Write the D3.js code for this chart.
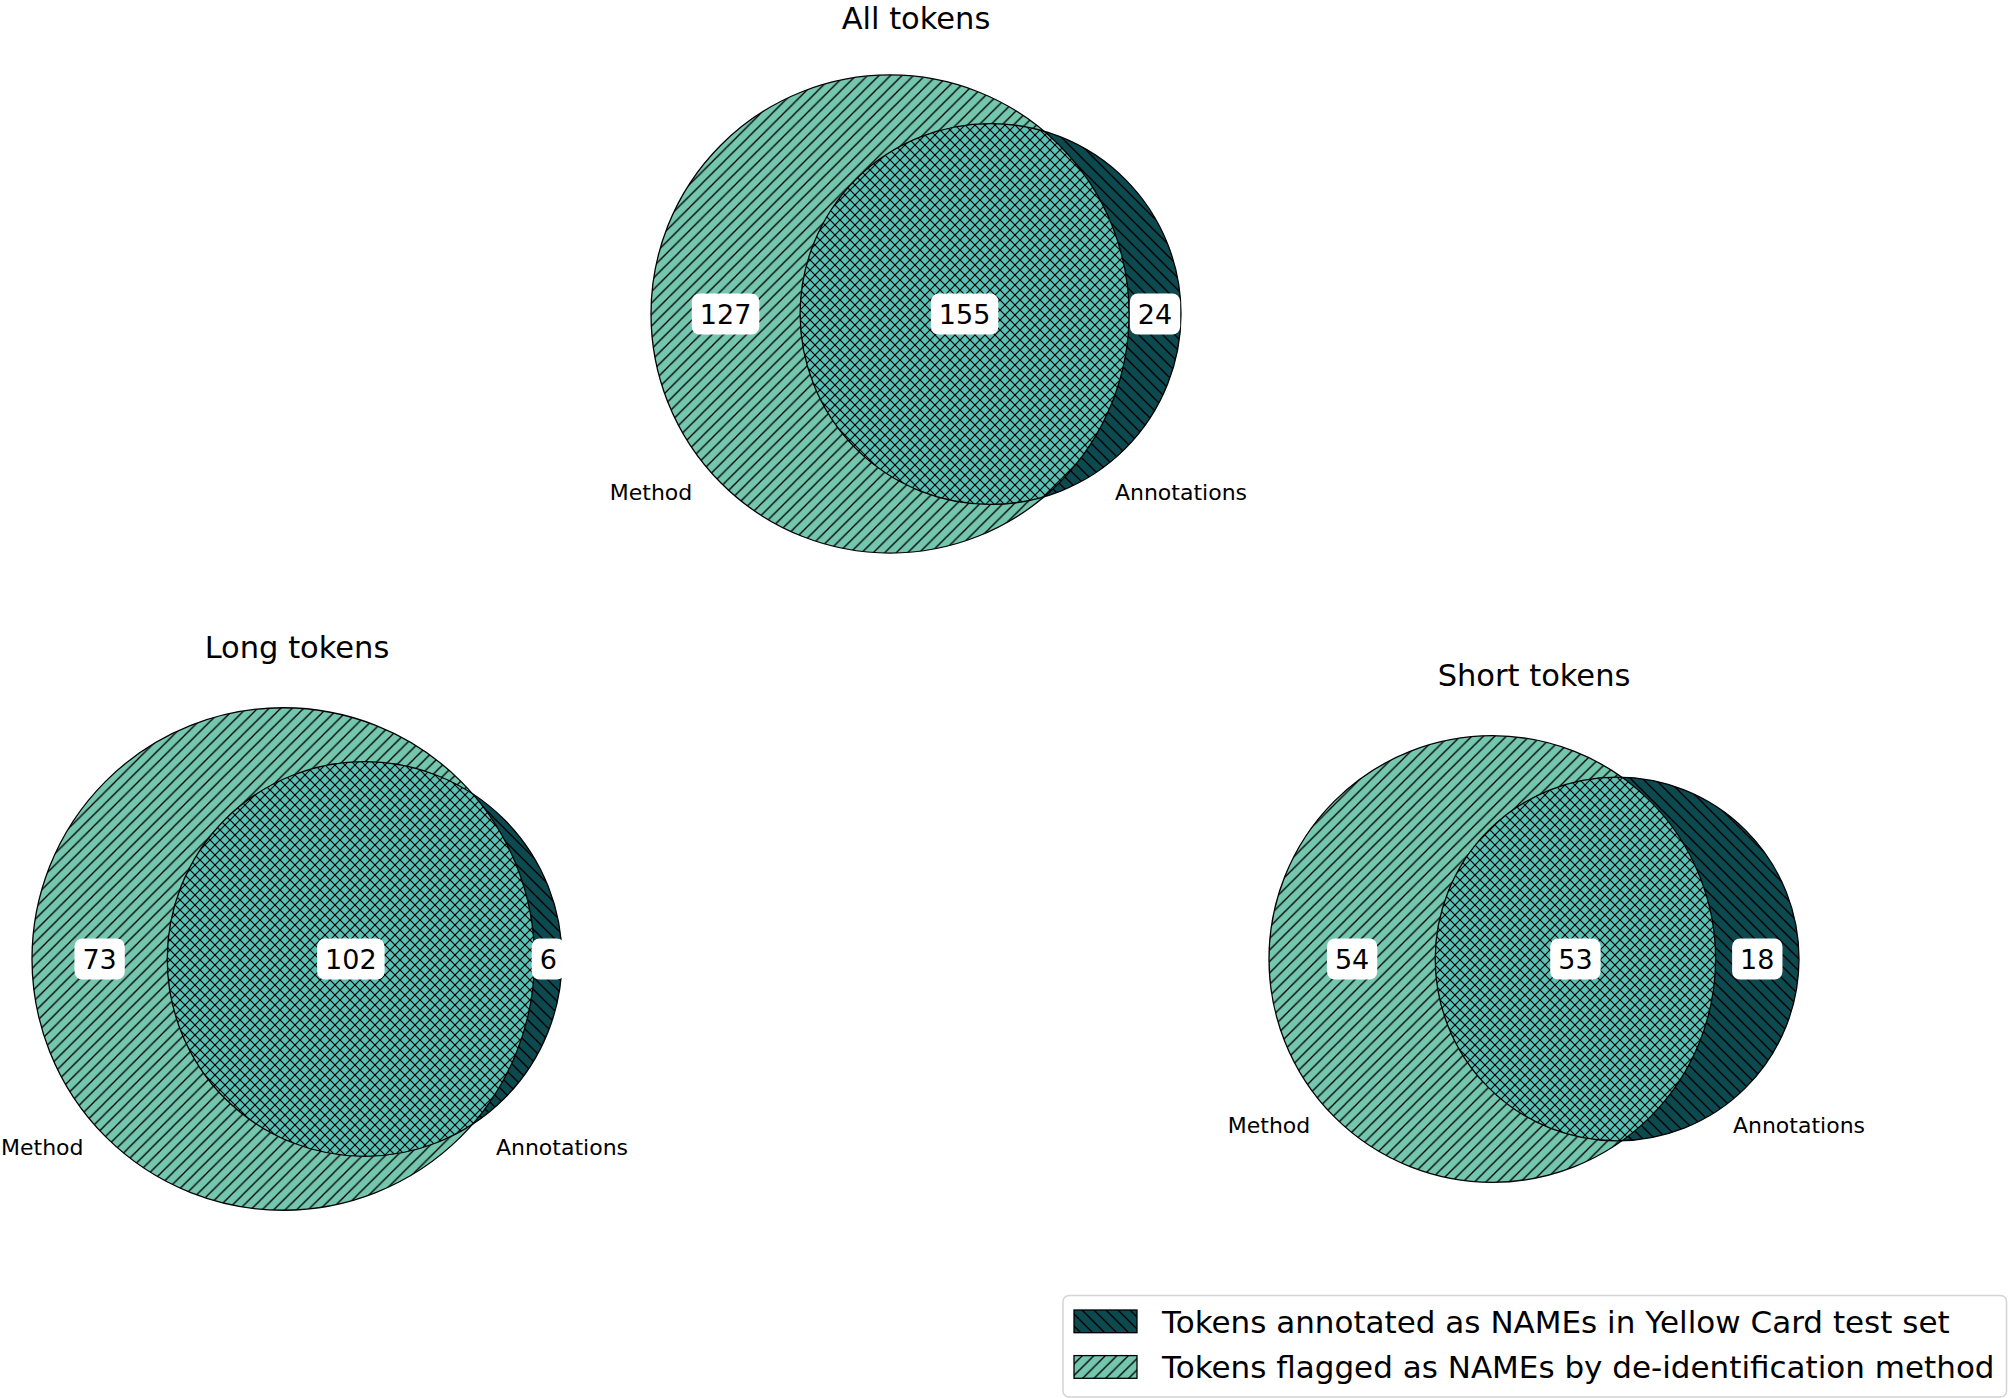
<!DOCTYPE html>
<html>
<head>
<meta charset="utf-8">
<script src="https://cdn.jsdelivr.net/npm/d3@7/dist/d3.min.js"></script>
<style>
  html, body { margin: 0; padding: 0; background: #ffffff; }
  svg { display: block; font-family: "DejaVu Sans", sans-serif; }
</style>
</head>
<body>
<svg id="chart" width="2008" height="1398"></svg>
<script>
// ---------------- data ----------------
const panelTitles = ["All tokens", "Long tokens", "Short tokens"];
const methodOnly  = [127, 73, 54];   // flagged by method, not annotated
const bothSets    = [155, 102, 53];  // flagged and annotated
const annotOnly   = [24, 6, 18];     // annotated, not flagged
const setLabels   = ["Method", "Annotations"];
const legendLabels = [
  "Tokens annotated as NAMEs in Yellow Card test set",
  "Tokens flagged as NAMEs by de-identification method"
];

// ---------------- style / layout ----------------
const colMethod = "#74c7ae";
const colAnnot  = "#0c4a50";
const colBoth   = "#5ac3b7";
const panelCenters = [{x: 916, y: 314}, {x: 297, y: 959}, {x: 1534, y: 959}];
const panelWidth = 530;

const svg = d3.select("#chart");
const defs = svg.append("defs");

function hatch(id, bg, s, dirs, lw) {
  const p = defs.append("pattern").attr("id", id)
    .attr("patternUnits", "userSpaceOnUse").attr("width", s).attr("height", s);
  p.append("rect").attr("width", s).attr("height", s).attr("fill", bg);
  const g = p.append("g").attr("stroke", "#000").attr("stroke-width", lw).attr("stroke-linecap", "square");
  if (dirs.includes("/")) {
    g.append("line").attr("x1", 0).attr("y1", s).attr("x2", s).attr("y2", 0);
    g.append("line").attr("x1", -1).attr("y1", 1).attr("x2", 1).attr("y2", -1);
    g.append("line").attr("x1", s - 1).attr("y1", s + 1).attr("x2", s + 1).attr("y2", s - 1);
  }
  if (dirs.includes("\\")) {
    g.append("line").attr("x1", 0).attr("y1", 0).attr("x2", s).attr("y2", s);
    g.append("line").attr("x1", -1).attr("y1", s - 1).attr("x2", 1).attr("y2", s + 1);
    g.append("line").attr("x1", s - 1).attr("y1", -1).attr("x2", s + 1).attr("y2", 1);
  }
}
hatch("hMethod", colMethod, 11.5, "/", 1.3);
hatch("hAnnot", colAnnot, 12, "\\", 1.3);
hatch("hBoth", colBoth, 10, "/\\", 1.2);

function lensArea(d, r1, r2) {
  if (d >= r1 + r2) return 0;
  if (d <= Math.abs(r1 - r2)) return Math.PI * Math.min(r1, r2) ** 2;
  const a = r1 * r1 * Math.acos((d * d + r1 * r1 - r2 * r2) / (2 * d * r1));
  const b = r2 * r2 * Math.acos((d * d + r2 * r2 - r1 * r1) / (2 * d * r2));
  const c = 0.5 * Math.sqrt((-d + r1 + r2) * (d + r1 - r2) * (d - r1 + r2) * (d + r1 + r2));
  return a + b - c;
}
function solveDistance(r1, r2, ov) {
  let lo = Math.abs(r1 - r2), hi = r1 + r2;
  for (let i = 0; i < 80; i++) {
    const mid = (lo + hi) / 2;
    if (lensArea(mid, r1, r2) > ov) lo = mid; else hi = mid;
  }
  return (lo + hi) / 2;
}

const numFont = 27, titleFont = 30.5, setFont = 22, legendFont = 31;

panelTitles.forEach((title, i) => {
  const total = methodOnly[i] + bothSets[i] + annotOnly[i];
  const rScale = d3.scaleSqrt().domain([0, total]).range([0, Math.sqrt(1 / Math.PI)]);
  const rA = rScale(methodOnly[i] + bothSets[i]);
  const rB = rScale(annotOnly[i] + bothSets[i]);
  const d = solveDistance(rA, rB, bothSets[i] / total);
  const left = -rA, right = Math.max(rA, d + rB);
  const pc = panelCenters[i];
  const x = d3.scaleLinear().domain([left, right]).range([pc.x - panelWidth / 2, pc.x + panelWidth / 2]);
  const k = x(1) - x(0);
  const cy = pc.y;
  const cxA = x(0), cxB = x(d);
  const RA = rA * k, RB = rB * k;
  const g = svg.append("g");

  const clipId = "clipA" + i;
  defs.append("clipPath").attr("id", clipId)
    .append("circle").attr("cx", cxA).attr("cy", cy).attr("r", RA);

  g.append("circle").attr("cx", cxA).attr("cy", cy).attr("r", RA).attr("fill", "url(#hMethod)");
  g.append("circle").attr("cx", cxB).attr("cy", cy).attr("r", RB).attr("fill", "url(#hAnnot)");
  g.append("circle").attr("cx", cxB).attr("cy", cy).attr("r", RB).attr("fill", "url(#hBoth)")
    .attr("clip-path", `url(#${clipId})`);
  [[cxA, RA], [cxB, RB]].forEach(([cx, r]) => {
    g.append("circle").attr("cx", cx).attr("cy", cy).attr("r", r)
      .attr("fill", "none").attr("stroke", "#000").attr("stroke-width", 1.3);
  });

  // subset labels
  const regions = [
    {v: methodOnly[i], px: ((cxA - RA) + (cxB - RB)) / 2},
    {v: bothSets[i],   px: ((cxB - RB) + (cxA + RA)) / 2},
    {v: annotOnly[i],  px: ((cxA + RA) + (cxB + RB)) / 2}
  ];
  regions.forEach(rg => {
    const txt = String(rg.v);
    const tw = txt.length * 0.636 * numFont;
    const bw = tw + 16, bh = 41;
    g.append("rect").attr("x", rg.px - bw / 2).attr("y", cy - bh / 2)
      .attr("width", bw).attr("height", bh).attr("rx", 8).attr("ry", 8)
      .attr("fill", "#fff");
    g.append("text").attr("x", rg.px).attr("y", cy + 0.729 * numFont / 2)
      .attr("text-anchor", "middle").attr("font-size", numFont).attr("fill", "#000").text(txt);
  });

  // set labels (kept inside the figure, as the tight-cropped reference shows)
  const rmax = Math.max(RA, RB);
  const mWidth = 3.751 * setFont;
  g.append("text").attr("x", Math.max(cxA - RA, mWidth / 2 + 1)).attr("y", cy + 0.78 * rmax)
    .attr("text-anchor", "middle").attr("font-size", setFont).text(setLabels[0]);
  g.append("text").attr("x", cxB + RB).attr("y", cy + 0.78 * rmax)
    .attr("text-anchor", "middle").attr("font-size", setFont).text(setLabels[1]);

  // title
  g.append("text").attr("x", pc.x).attr("y", Math.max(cy - rmax - 50, 29))
    .attr("text-anchor", "middle").attr("font-size", titleFont).text(title);
});

// legend
const lg = svg.append("g");
lg.append("rect").attr("x", 1063).attr("y", 1295.5).attr("width", 943.5).attr("height", 101.5)
  .attr("rx", 6).attr("fill", "#fff").attr("fill-opacity", 0.8)
  .attr("stroke", "#d4d4d4").attr("stroke-width", 1.5);
const legendFills = ["url(#hAnnot)", "url(#hMethod)"];
const ly = d3.scaleBand().domain(legendLabels).range([1298.5, 1389.7]).padding(0);
legendLabels.forEach((lab, j) => {
  const yc = ly(lab) + ly.bandwidth() / 2;
  lg.append("rect").attr("x", 1074).attr("y", yc - 11.3).attr("width", 63).attr("height", 22.7)
    .attr("fill", legendFills[j]).attr("stroke", "#000").attr("stroke-width", 1.3);
  lg.append("text").attr("x", 1162).attr("y", yc + 0.729 * legendFont / 2)
    .attr("font-size", legendFont).attr("fill", "#000").text(lab);
});
</script>
</body>
</html>
